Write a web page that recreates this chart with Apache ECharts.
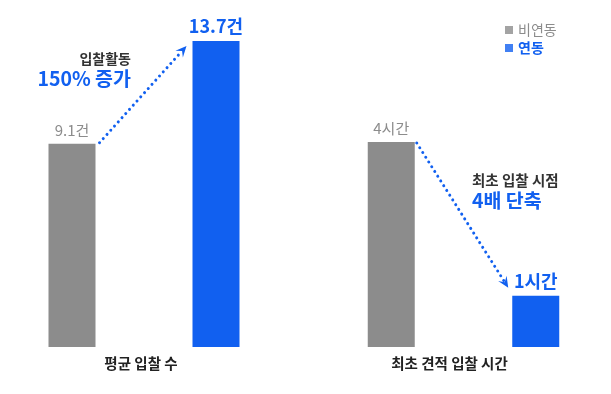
<!DOCTYPE html>
<html><head><meta charset="utf-8">
<script src="https://cdn.jsdelivr.net/npm/echarts@6/dist/echarts.min.js"></script>
<style>html,body{margin:0;padding:0;background:#fff}#c{width:611px;height:394px}</style>
</head><body><div id="c"></div>
<script>
const groups = ['평균 입찰 수', '최초 견적 입찰 시간'];
const seriesNames = ['비연동', '연동'];
const avgBids = [9.1, 13.7];
const avgBidLabels = ['9.1건', '13.7건'];
const firstBidHours = [4, 1];
const firstBidLabels = ['4시간', '1시간'];
const notes = [['입찰활동', '150% 증가'], ['최초 입찰 시점', '4배 단축']];

const GRAY = '#8c8c8c', BLUE = '#1160f0';
const FONT = '"Noto Sans CJK KR", "Noto Sans", sans-serif';
const chart = echarts.init(document.getElementById('c'));

function labelFor(texts, i) {
  return {
    show: true, position: 'top', distance: 6,
    formatter: texts[i],
    color: i === 0 ? GRAY : BLUE,
    fontFamily: FONT,
    fontSize: i === 0 ? 15 : 18,
    fontWeight: i === 0 ? 'normal' : 'bold'
  };
}
function barData(vals, texts) {
  return vals.map((v, i) => ({
    value: v,
    itemStyle: { color: i === 0 ? GRAY : BLUE },
    label: labelFor(texts, i)
  }));
}

const option = {
  animation: false,
  legend: {
    left: 500, top: 18, orient: 'vertical', itemWidth: 8, itemHeight: 8, itemGap: 4,
    icon: 'rect',
    data: seriesNames.map((n, i) => ({ name: n, textStyle: { color: i === 0 ? GRAY : BLUE, fontWeight: i === 0 ? 'normal' : 'bold' } })),
    textStyle: { fontFamily: FONT, fontSize: 14 }
  },
  grid: [
    { left: 0, width: 288, top: 41, bottom: 47 },
    { left: 319, width: 289, top: 142, bottom: 47 }
  ],
  xAxis: [0, 1].map(g => ({
    type: 'category', gridIndex: g, data: seriesNames,
    axisLine: { show: false }, axisTick: { show: false }, axisLabel: { show: false }
  })),
  yAxis: [
    { type: 'value', gridIndex: 0, min: 0, max: 13.7, show: false, splitLine: { show: false } },
    { type: 'value', gridIndex: 1, min: 0, max: 4, show: false, splitLine: { show: false } }
  ],
  series: [
    { name: seriesNames[0], type: 'scatter', data: [], itemStyle: { color: GRAY } },
    { name: seriesNames[1], type: 'scatter', data: [], itemStyle: { color: BLUE } },
    { type: 'bar', xAxisIndex: 0, yAxisIndex: 0, barWidth: 47, data: barData(avgBids, avgBidLabels) },
    { type: 'bar', xAxisIndex: 1, yAxisIndex: 1, barWidth: 47, data: barData(firstBidHours, firstBidLabels) }
  ]
};
chart.setOption(option);

const half = 23.5;
const p0a = chart.convertToPixel({ xAxisIndex: 0, yAxisIndex: 0 }, [0, avgBids[0]]);
const p0b = chart.convertToPixel({ xAxisIndex: 0, yAxisIndex: 0 }, [1, avgBids[1]]);
const p1a = chart.convertToPixel({ xAxisIndex: 1, yAxisIndex: 1 }, [0, firstBidHours[0]]);
const p1b = chart.convertToPixel({ xAxisIndex: 1, yAxisIndex: 1 }, [1, firstBidHours[1]]);
const base0 = chart.convertToPixel({ xAxisIndex: 0, yAxisIndex: 0 }, [0, 0]);
const base1 = chart.convertToPixel({ xAxisIndex: 1, yAxisIndex: 1 }, [0, 0]);

function arrow(x1, y1, x2, y2) {
  const ang = Math.atan2(y2 - y1, x2 - x1);
  const L = 11, W = 5;
  const bx = x2 - L * Math.cos(ang), by = y2 - L * Math.sin(ang);
  const nx = -Math.sin(ang), ny = Math.cos(ang);
  return [
    { type: 'line', shape: { x1, y1, x2: bx + 3 * Math.cos(ang), y2: by + 3 * Math.sin(ang) },
      style: { stroke: BLUE, lineWidth: 3, lineDash: [0.01, 5.6], lineCap: 'round' } },
    { type: 'polygon', shape: { points: [[x2, y2], [bx + nx * W, by + ny * W], [x2 - 0.6 * L * Math.cos(ang), y2 - 0.6 * L * Math.sin(ang)], [bx - nx * W, by - ny * W]] },
      style: { fill: BLUE } }
  ];
}

const graphics = [
  ...arrow(p0a[0] + half + 4, p0a[1] - 1, p0b[0] - half - 6, p0b[1] + 5),
  ...arrow(p1a[0] + half + 2, p1a[1] + 1, p1b[0] - half - 4, p1b[1] - 8),
  { type: 'text', x: 131, y: 59, style: { text: notes[0][0], fill: '#333', font: 'bold 14px ' + FONT, textAlign: 'right', textVerticalAlign: 'middle' } },
  { type: 'text', x: 131, y: 79, style: { text: notes[0][1], fill: BLUE, font: 'bold 19.5px ' + FONT, textAlign: 'right', textVerticalAlign: 'middle' } },
  { type: 'text', x: 472, y: 180, style: { text: notes[1][0], fill: '#333', font: 'bold 14.5px ' + FONT, textAlign: 'left', textVerticalAlign: 'middle' } },
  { type: 'text', x: 472, y: 201, style: { text: notes[1][1], fill: BLUE, font: 'bold 19.5px ' + FONT, textAlign: 'left', textVerticalAlign: 'middle' } },
  { type: 'text', x: (p0a[0] + p0b[0]) / 2 - 3, y: base0[1] + 16, style: { text: groups[0], fill: '#222', font: 'bold 14.5px ' + FONT, textAlign: 'center', textVerticalAlign: 'middle' } },
  { type: 'text', x: (p1a[0] + p1b[0]) / 2 - 14, y: base1[1] + 16, style: { text: groups[1], fill: '#222', font: 'bold 14.5px ' + FONT, textAlign: 'center', textVerticalAlign: 'middle' } }
];
chart.setOption({ graphic: graphics });
</script>
</body></html>
